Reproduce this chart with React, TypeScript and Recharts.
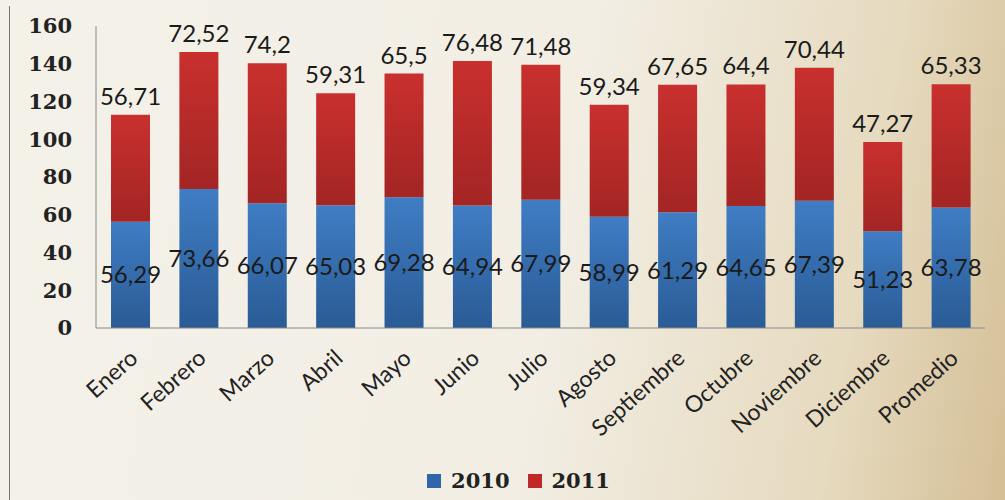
import React from 'react';
import { BarChart, Bar, XAxis, YAxis, Legend, LabelList } from 'recharts';

const months = ['Enero', 'Febrero', 'Marzo', 'Abril', 'Mayo', 'Junio', 'Julio', 'Agosto', 'Septiembre', 'Octubre', 'Noviembre', 'Diciembre', 'Promedio'];
const values2010 = [56.29, 73.66, 66.07, 65.03, 69.28, 64.94, 67.99, 58.99, 61.29, 64.65, 67.39, 51.23, 63.78];
const values2011 = [56.71, 72.52, 74.2, 59.31, 65.5, 76.48, 71.48, 59.34, 67.65, 64.4, 70.44, 47.27, 65.33];
const yTicks = [0, 20, 40, 60, 80, 100, 120, 140, 160];

const data = months.map((m, i) => ({ name: m, y2010: values2010[i], y2011: values2011[i] }));

const fmt = (v: any) => String(v).replace('.', ',');

const MonthTick = (props: any) => {
  const { x, y, payload } = props;
  return (
    <text
      transform={`translate(${x - 2},${y + 12}) rotate(-42)`}
      textAnchor="end"
      dy="0.71em"
      fontFamily="Lato"
      fontSize={23}
      fill="#222"
    >
      {payload.value}
    </text>
  );
};

const LegendBox = () => (
  <div style={{ display: 'flex', justifyContent: 'center', gap: 18, paddingLeft: 52, fontFamily: 'DejaVu Serif', fontWeight: 'bold', fontSize: 21, color: '#222' }}>
    <span style={{ display: 'flex', alignItems: 'center' }}>
      <span style={{ width: 14, height: 14, background: '#2f66aa', marginRight: 10 }} />2010
    </span>
    <span style={{ display: 'flex', alignItems: 'center' }}>
      <span style={{ width: 14, height: 14, background: '#c0282a', marginRight: 10 }} />2011
    </span>
  </div>
);

export default function App() {
  return (
    <div
      style={{
        position: 'absolute',
        left: 0,
        top: 0,
        width: 1005,
        height: 500,
        background: 'linear-gradient(100deg, #f4f1e9 0%, #f2eee4 55%, #e6dabf 83%, #d4bf96 100%)',
        overflow: 'hidden',
      }}
    >
      <div style={{ position: 'absolute', left: 9, top: 6, width: 1, height: 494, background: '#777' }} />
      <BarChart width={1005} height={500} data={data} margin={{ top: 26, right: 20, left: 0, bottom: 47 }} barSize={39}>
        <defs>
          <linearGradient id="blueGrad" x1="0" y1="0" x2="0" y2="1">
            <stop offset="0%" stopColor="#3f7dc4" />
            <stop offset="100%" stopColor="#2a5b95" />
          </linearGradient>
          <linearGradient id="redGrad" x1="0" y1="0" x2="0" y2="1">
            <stop offset="0%" stopColor="#c9302e" />
            <stop offset="100%" stopColor="#a32524" />
          </linearGradient>
        </defs>
        <XAxis
          dataKey="name"
          interval={0}
          height={100}
          tickLine={false}
          axisLine={{ stroke: '#888' }}
          tick={<MonthTick />}
        />
        <YAxis
          width={96}
          domain={[0, 160]}
          ticks={yTicks}
          tickLine={false}
          axisLine={{ stroke: '#888' }}
          tickMargin={18}
          tick={{ fontFamily: 'DejaVu Serif', fontWeight: 'bold', fontSize: 21, fill: '#222' }}
        />
        <Legend verticalAlign="bottom" wrapperStyle={{ bottom: 7 }} content={<LegendBox />} />
        <Bar dataKey="y2010" stackId="a" fill="url(#blueGrad)" isAnimationActive={false}>
          <LabelList dataKey="y2010" position="center" formatter={fmt} style={{ fontFamily: 'Lato', fontSize: 24, fill: '#1a1a1a' }} />
        </Bar>
        <Bar dataKey="y2011" stackId="a" fill="url(#redGrad)" isAnimationActive={false}>
          <LabelList dataKey="y2011" position="top" offset={10} formatter={fmt} style={{ fontFamily: 'Lato', fontSize: 24, fill: '#1a1a1a' }} />
        </Bar>
      </BarChart>
    </div>
  );
}
